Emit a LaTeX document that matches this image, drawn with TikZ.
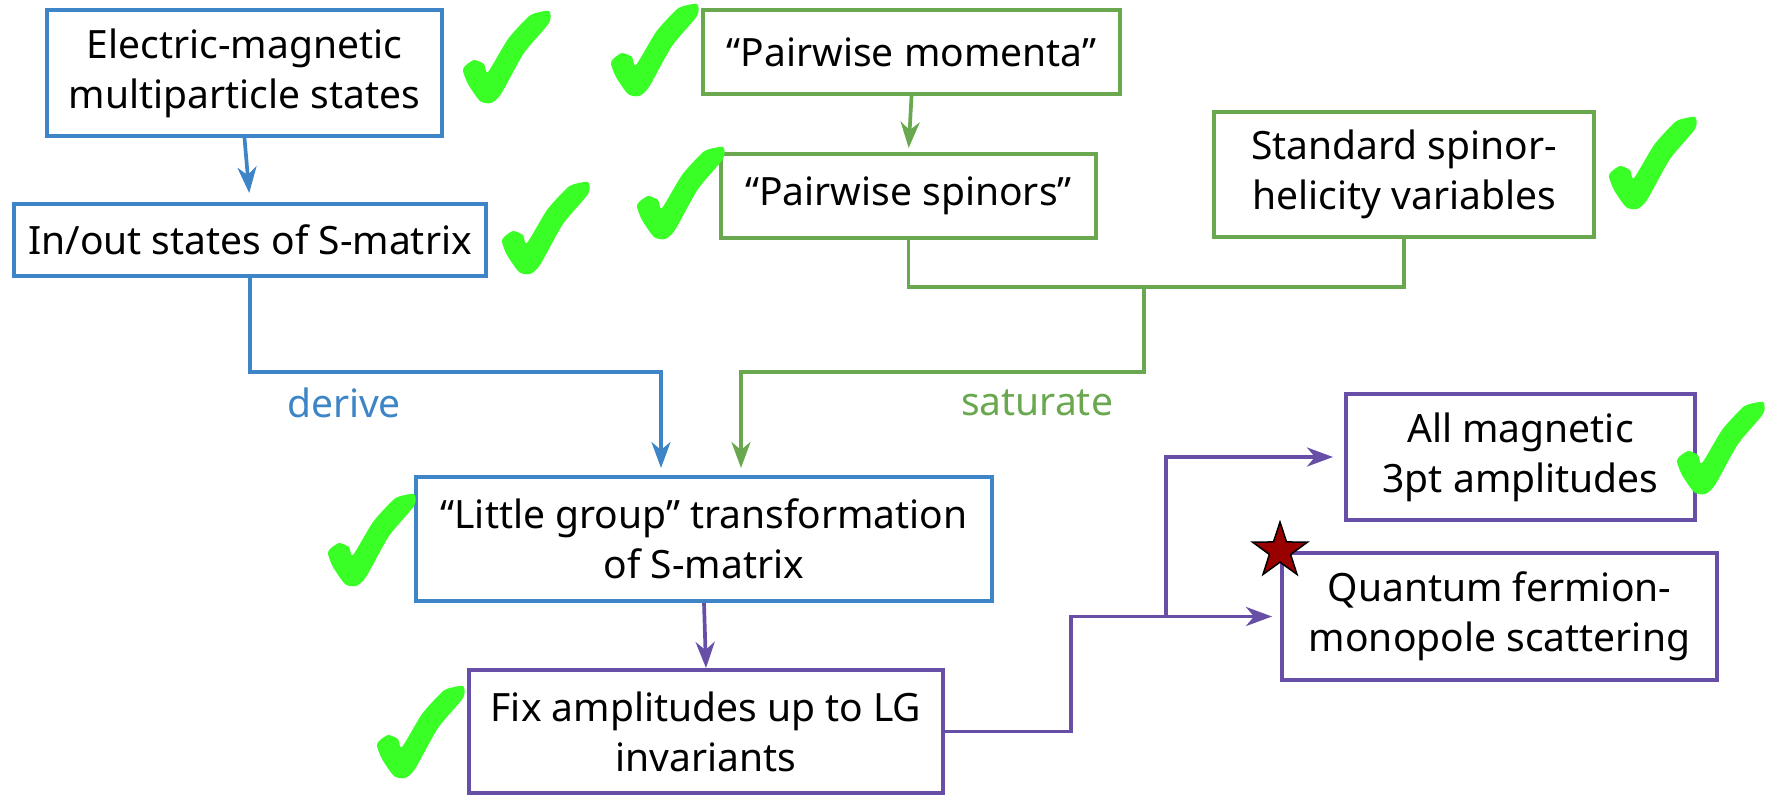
\documentclass[tikz,border=0pt]{standalone}
\usepackage{fontspec}
\setmainfont{Noto Sans}
\usetikzlibrary{arrows.meta,shapes.geometric}

\definecolor{flowblue}{HTML}{3D85C6}
\definecolor{flowgreen}{HTML}{6AA84F}
\definecolor{flowpurple}{HTML}{674EA7}
\definecolor{tickgreen}{RGB}{57,255,38}
\definecolor{starred}{HTML}{990000}

\tikzset{
  box/.style={draw, line width=4pt, fill=white, inner sep=0pt, align=center,
    font=\fontsize{39}{50}\selectfont},
  bluebox/.style={box, draw=flowblue},
  greenbox/.style={box, draw=flowgreen},
  purplebox/.style={box, draw=flowpurple},
  link/.style={line width=3.7pt},
  arr/.style={link, -{Stealth[length=26pt, width=19pt, inset=8pt]}},
  lbl/.style={font=\fontsize{39}{50}\selectfont, inner sep=0pt},
  tick/.pic={
    \fill[tickgreen] plot[smooth cycle, tension=0.4] coordinates {
      (-41,9) (-32,3) (-22,7) (-18,15) (2,-18) (21,-39)
      (28,-43.5) (43,-46) (43,-34) (18,-4) (-5,37)
      (-15,46) (-26,44) (-38,27) (-43,14)};
  }
}

\begin{document}
\begin{tikzpicture}[x=1pt, y=-1pt]
\useasboundingbox (0,0) rectangle (1771,795);

% boxes
\node[bluebox, minimum width=395pt, minimum height=126pt] (em) at (244.5,73)
  {Electric-magnetic\\multiparticle states};
\node[bluebox, minimum width=472pt, minimum height=72pt] (io) at (250,240)
  {In/out states of S-matrix};
\node[greenbox, minimum width=417pt, minimum height=84pt] (mom) at (911.5,52)
  {“Pairwise momenta”};
\node[greenbox, minimum width=375pt, minimum height=84pt] (spin) at (908.5,196)
  {“Pairwise spinors”};
\node[greenbox, minimum width=380pt, minimum height=125pt] (std) at (1404,174.5)
  {Standard spinor-\\helicity variables};
\node[bluebox, minimum width=576pt, minimum height=124pt] (lg) at (704,539)
  {“Little group” transformation\\of S-matrix};
\node[purplebox, minimum width=474pt, minimum height=123pt] (fix) at (706,731.5)
  {Fix amplitudes up to LG\\invariants};
\node[purplebox, minimum width=349pt, minimum height=126pt] (allmag) at (1520.5,457)
  {All magnetic\\3pt amplitudes};
\node[purplebox, minimum width=435pt, minimum height=127pt] (qf) at (1499.5,616.5)
  {Quantum fermion-\\monopole scattering};

% bend points of the connectors
\coordinate (bturn) at (661,372);
\coordinate (gjoin) at (1144,287);
\coordinate (gturn) at (741,372);
\coordinate (pturn) at (1071,616.5);
\coordinate (pfork) at (1166,616.5);

% blue branch
\draw[arr, flowblue, shorten >=9pt] (em.south) -- (io.north);
\draw[arr, flowblue, shorten >=7pt] (io.south) |- (bturn) -- (bturn |- lg.north);

% green branch
\draw[arr, flowgreen, shorten >=4pt] (mom.south) -- (spin.north);
\draw[link, flowgreen] (spin.south) |- (gjoin);
\draw[link, flowgreen] (std.south) |- (gjoin);
\draw[arr, flowgreen, shorten >=7pt] (gjoin) |- (gturn) -- (gturn |- lg.north);

% purple branch
\draw[arr, flowpurple] (lg.south) -- (fix.north);
\draw[arr, flowpurple, shorten >=8pt] (fix.east) -| (pturn) -- (qf.west);
\draw[arr, flowpurple, shorten >=11pt] (pfork) |- (allmag.west);

% edge labels
\node[lbl, text=flowblue] (derive) at (344,403) {derive};
\node[lbl, text=flowgreen] (saturate) at (1037,403) {saturate};

% star on the open problem
\node[star, star points=5, star point ratio=2.6, fill=starred, draw=black,
  line width=1.5pt, minimum size=58pt, inner sep=0pt] (mark) at (qf.north west) {};

% check marks
\pic at (506,57) {tick};
\pic at (654,50) {tick};
\pic at (545,228) {tick};
\pic at (680,193) {tick};
\pic at (1652,163) {tick};
\pic at (371,540) {tick};
\pic at (420,732) {tick};
\pic at (1720,448) {tick};
\end{tikzpicture}
\end{document}
